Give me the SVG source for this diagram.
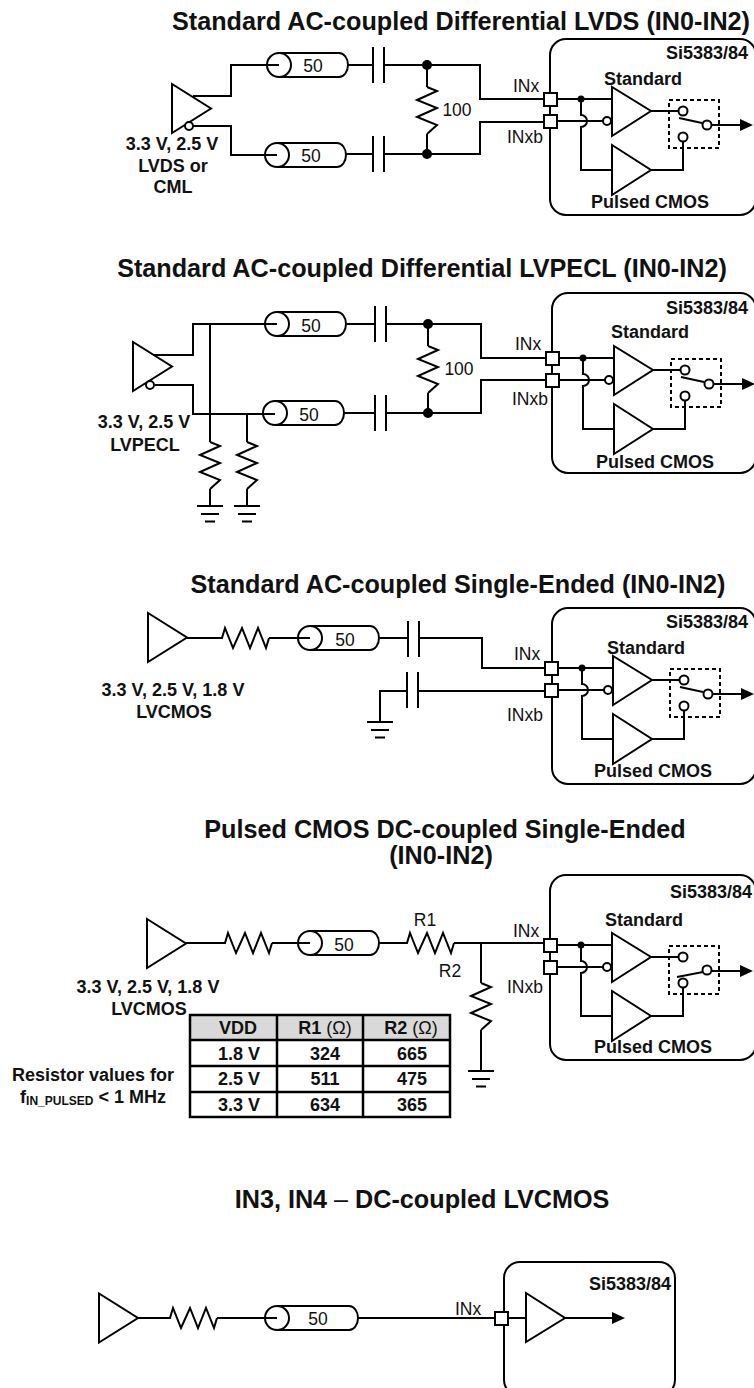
<svg xmlns="http://www.w3.org/2000/svg" xmlns:xlink="http://www.w3.org/1999/xlink" width="754" height="1388" viewBox="0 0 754 1388">
<style>
text{font-family:"Liberation Sans",Arial,sans-serif;fill:#111;text-anchor:middle}
.t{font-weight:700;font-size:25.200px}
.b{font-weight:700;font-size:18px}
.h{font-weight:700;font-size:18px}
.r{font-size:17.500px}
.w,.c,.z{fill:none;stroke:#000;stroke-width:2}
.o{fill:#fff;stroke:#000;stroke-width:2}
.k{fill:#000;stroke:none}
.d{fill:none;stroke:#000;stroke-width:2;stroke-dasharray:4 3}
.g{fill:#d9d9d9;stroke:none}
</style>
<defs>
<polygon id="tri" class="w" points="0,0 0,49 39,24.5"/>
<path id="hres" class="w" d="M0,0 H2 L5,-10 L13,10 L22,-10 L30,10 L38,-10 L46,10 L49,0"/>
<path id="vres" class="w" d="M0,0 L10,4 L-10,13 L10,21 L-10,30 L10,38 L0,47"/>
<path id="gnd" class="w" d="M-13,0 H13 M-9,8 H9 M-5,15.500 H5"/>
<path id="cap" class="w" d="M0,-18 V18 M11,-18 V18"/>
<g id="coax" class="w"><circle class="c" r="12"/><path class="c" d="M0,-12 H60 A9,12 0 0 1 60,12 H0"/></g>
<g id="core">
<path class="w" d="M557,99 H612 M557,121 H575 M581,99 V115 A6,6 0 0 1 581,127 V170 H612 M587,121 H603 M651,111 H679 M651,170 H683 V142 M711,125 H742 M679,118 L702,123"/>
<path class="w" d="M575,121 H587"/>
<circle class="k" cx="581" cy="99" r="3.500"/>
<rect class="o" x="544" y="93" width="13" height="13"/>
<rect class="o" x="544" y="115" width="13" height="13"/>
<polygon class="w" points="612,87 612,136 651,111"/>
<polygon class="w" points="612,145 612,195 651,170"/>
<circle class="o" cx="607" cy="121" r="4"/>
<rect class="d" x="669" y="100" width="50" height="48"/>
<circle class="o" cx="683" cy="111" r="4.500"/>
<circle class="o" cx="683" cy="137" r="4.500"/>
<circle class="o" cx="707" cy="125" r="4.500"/>
<polygon class="k" points="740,119 753,125 740,131"/>
</g>
</defs>

<g id="titles">
<text class="t" x="461" y="30">Standard AC-coupled Differential LVDS (IN0-IN2)</text>
<text class="t" x="422" y="277">Standard AC-coupled Differential LVPECL (IN0-IN2)</text>
<text class="t" x="458" y="593">Standard AC-coupled Single-Ended (IN0-IN2)</text>
<text class="t" x="445" y="838">Pulsed CMOS DC-coupled Single-Ended</text>
<text class="t" x="441" y="864">(IN0-IN2)</text>
<text class="t" x="422" y="1208">IN3, IN4 <tspan font-weight="400">–</tspan> DC-coupled LVCMOS</text>
</g>

<g id="connectors">
<path class="w" d="M193,96 H231 V65 H279 M189,126 H231 V155 H277 M348,65 H373 M385,65 H480 V99 H545 M346,154 H373 M385,154 H480 V122 H545 M427,65 V87 M427,134 V154"/>
<path class="w" d="M153,355 H193 V324 H277 M155,385 H193 V414 H275 M347,324 H375 M386,324 H481 V358 H547 M344,413 H375 M386,413 H481 V380 H547 M428,324 V346 M428,393 V413 M210,324 V442 M210,489 V506 M247,414 V442 M247,489 V506"/>
<path class="w" d="M187,638 H220 M269,638 H310 M380,638 H408 M419,638 H482 V668 H546 M380,722 V691 H407 M418,691 H546"/>
<path class="w" d="M186,943 H223 M272,943 H310 M379,943 H405 M454,943 H545 M481,943 V983 M481,1030 V1071"/>
<path class="w" d="M138,1318 H168 M217,1318 H277 M358,1318 H496 M509,1318 H526 M565,1318 H614"/>
</g>

<g id="panel1">
<g id="p1-driver"><use xlink:href="#tri" href="#tri" x="172" y="84"/><circle class="o" cx="189" cy="126" r="4"/>
<text class="b" x="172" y="150">3.3 V, 2.5 V</text><text class="b" x="173" y="172">LVDS or</text><text class="b" x="173" y="193">CML</text></g>
<g id="p1-coax1"><use href="#coax" x="279" y="65"/><text class="r" x="313" y="72">50</text></g>
<g id="p1-coax2"><use href="#coax" x="277" y="155"/><text class="r" x="311" y="162">50</text></g>
<g id="p1-cap1"><use href="#cap" x="373" y="65"/></g>
<g id="p1-cap2"><use href="#cap" x="373" y="154"/></g>
<g id="p1-res"><use href="#vres" x="427" y="87"/><text class="r" x="457" y="116">100</text></g>
<circle class="k" cx="427" cy="65" r="5"/><circle class="k" cx="427" cy="154" r="5"/>
<g id="p1-chip"><rect class="w" x="550" y="39" width="206" height="176" rx="16"/><use href="#core"/>
<text class="h" x="707" y="59">Si5383/84</text><text class="h" x="643" y="85">Standard</text><text class="r" x="526" y="92">INx</text><text class="r" x="525" y="143">INxb</text><text class="h" x="650" y="208">Pulsed CMOS</text></g>
</g>

<g id="panel2">
<g id="p2-driver"><use href="#tri" x="133" y="342"/><circle class="o" cx="150" cy="385" r="4"/>
<text class="b" x="144" y="428">3.3 V, 2.5 V</text><text class="b" x="145" y="451">LVPECL</text></g>
<g id="p2-coax1"><use href="#coax" x="277" y="324"/><text class="r" x="311" y="332">50</text></g>
<g id="p2-coax2"><use href="#coax" x="275" y="413"/><text class="r" x="309" y="421">50</text></g>
<g id="p2-cap1"><use href="#cap" x="375" y="324"/></g>
<g id="p2-cap2"><use href="#cap" x="375" y="413"/></g>
<g id="p2-res"><use href="#vres" x="428" y="346"/><text class="r" x="459" y="375">100</text></g>
<circle class="k" cx="428" cy="324" r="5"/><circle class="k" cx="428" cy="413" r="5"/>
<g id="p2-res2"><use href="#vres" x="210" y="442"/><use href="#gnd" x="210" y="506"/></g>
<g id="p2-res3"><use href="#vres" x="247" y="442"/><use href="#gnd" x="247" y="506"/></g>
<g id="p2-chip"><rect class="w" x="552" y="293" width="204" height="180" rx="16"/><use href="#core" x="2" y="259"/>
<text class="h" x="707" y="314">Si5383/84</text><text class="h" x="650" y="338">Standard</text><text class="r" x="528" y="350">INx</text><text class="r" x="530" y="405">INxb</text><text class="h" x="655" y="468">Pulsed CMOS</text></g>
</g>

<g id="panel3">
<g id="p3-driver"><use href="#tri" x="148" y="613"/>
<text class="b" x="173" y="696">3.3 V, 2.5 V, 1.8 V</text><text class="b" x="174" y="718">LVCMOS</text></g>
<g id="p3-res"><use href="#hres" x="220" y="638"/></g>
<g id="p3-coax"><use href="#coax" x="310" y="638"/><text class="r" x="345" y="646">50</text></g>
<g id="p3-cap1"><use href="#cap" x="408" y="639"/></g>
<g id="p3-cap2"><use href="#cap" x="407" y="690"/></g>
<g id="p3-gnd"><use href="#gnd" x="380" y="722"/></g>
<g id="p3-chip"><rect class="w" x="552" y="608" width="204" height="176" rx="16"/><use href="#core" x="1" y="569"/>
<text class="h" x="707" y="628">Si5383/84</text><text class="h" x="646" y="654">Standard</text><text class="r" x="527" y="660">INx</text><text class="r" x="525" y="721">INxb</text><text class="h" x="653" y="777">Pulsed CMOS</text></g>
</g>

<g id="panel4">
<g id="p4-driver"><use href="#tri" x="147" y="919"/>
<text class="b" x="148" y="993">3.3 V, 2.5 V, 1.8 V</text><text class="b" x="149" y="1015">LVCMOS</text></g>
<g id="p4-res"><use href="#hres" x="223" y="943"/></g>
<g id="p4-coax"><use href="#coax" x="310" y="943"/><text class="r" x="344" y="951">50</text></g>
<g id="p4-r1"><use href="#hres" x="405" y="943"/><text class="r" x="425" y="926">R1</text></g>
<g id="p4-r2"><use href="#vres" x="481" y="983"/><use href="#gnd" x="481" y="1071"/><text class="r" x="450" y="977">R2</text></g>
<g id="p4-chip"><rect class="w" x="550" y="875" width="206" height="185" rx="16"/>
<path class="w" d="M557,945 H612 M557,967 H575 M581,945 V961 A6,6 0 0 1 581,973 V1016 H612 M587,967 H603 M651,957 H679 M651,1016 H683 V988 M711,971 H742 M677,977 L703,972"/>
<path class="w" d="M575,967 H587"/>
<circle class="k" cx="581" cy="945" r="3.500"/>
<rect class="o" x="544" y="939" width="13" height="13"/><rect class="o" x="544" y="961" width="13" height="13"/>
<polygon class="w" points="612,933 612,982 651,957"/><polygon class="w" points="612,991 612,1041 651,1016"/>
<circle class="o" cx="607" cy="967" r="4"/>
<rect class="d" x="669" y="946" width="50" height="48"/>
<circle class="o" cx="683" cy="957" r="4.500"/><circle class="o" cx="683" cy="983" r="4.500"/><circle class="o" cx="707" cy="970" r="4.500"/>
<polygon class="k" points="740,965 753,971 740,977"/>
<text class="h" x="711" y="898">Si5383/84</text><text class="h" x="644" y="926">Standard</text><text class="r" x="526" y="937">INx</text><text class="r" x="525" y="993">INxb</text><text class="h" x="653" y="1053">Pulsed CMOS</text></g>
<g id="p4-note"><text class="b" x="93" y="1081">Resistor values for</text><text class="b" x="93" y="1103">f<tspan font-size="12px" dy="2">IN_PULSED</tspan><tspan dy="-2"> &lt; 1 MHz</tspan></text></g>
<g id="p4-table">
<rect class="g" x="190" y="1015" width="260" height="25"/>
<path class="w" d="M190,1015 H450 V1117 H190 Z M277,1015 V1117 M363,1015 V1117 M190,1040 H450 M190,1066 H450 M190,1092 H450" style="stroke-width:2.500"/>
<text class="h" x="238" y="1034">VDD</text><text class="h" x="325" y="1034">R1 <tspan font-weight="400">(Ω)</tspan></text><text class="h" x="411" y="1034">R2 <tspan font-weight="400">(Ω)</tspan></text>
<text class="h" x="239" y="1060">1.8 V</text><text class="h" x="325" y="1060">324</text><text class="h" x="412" y="1060">665</text>
<text class="h" x="239" y="1085">2.5 V</text><text class="h" x="325" y="1085">511</text><text class="h" x="412" y="1085">475</text>
<text class="h" x="239" y="1111">3.3 V</text><text class="h" x="325" y="1111">634</text><text class="h" x="412" y="1111">365</text>
</g>
</g>

<g id="panel5">
<g id="p5-driver"><use href="#tri" x="99" y="1293.500"/></g>
<g id="p5-res"><use href="#hres" x="168" y="1318"/></g>
<g id="p5-coax"><circle class="c" cx="277" cy="1318" r="12"/><path class="c" d="M277,1306 H349 A9,12 0 0 1 349,1330 H277"/><text class="r" x="318" y="1325">50</text></g>
<g id="p5-chip"><rect class="w" x="504" y="1262" width="171" height="134" rx="16"/>
<rect class="o" x="495" y="1312" width="13" height="13"/>
<polygon class="w" points="526,1293 526,1342 565,1318"/>
<polygon class="k" points="612,1312 625,1318 612,1324"/>
<text class="h" x="630" y="1290">Si5383/84</text><text class="r" x="468" y="1315">INx</text></g>
</g>
</svg>
